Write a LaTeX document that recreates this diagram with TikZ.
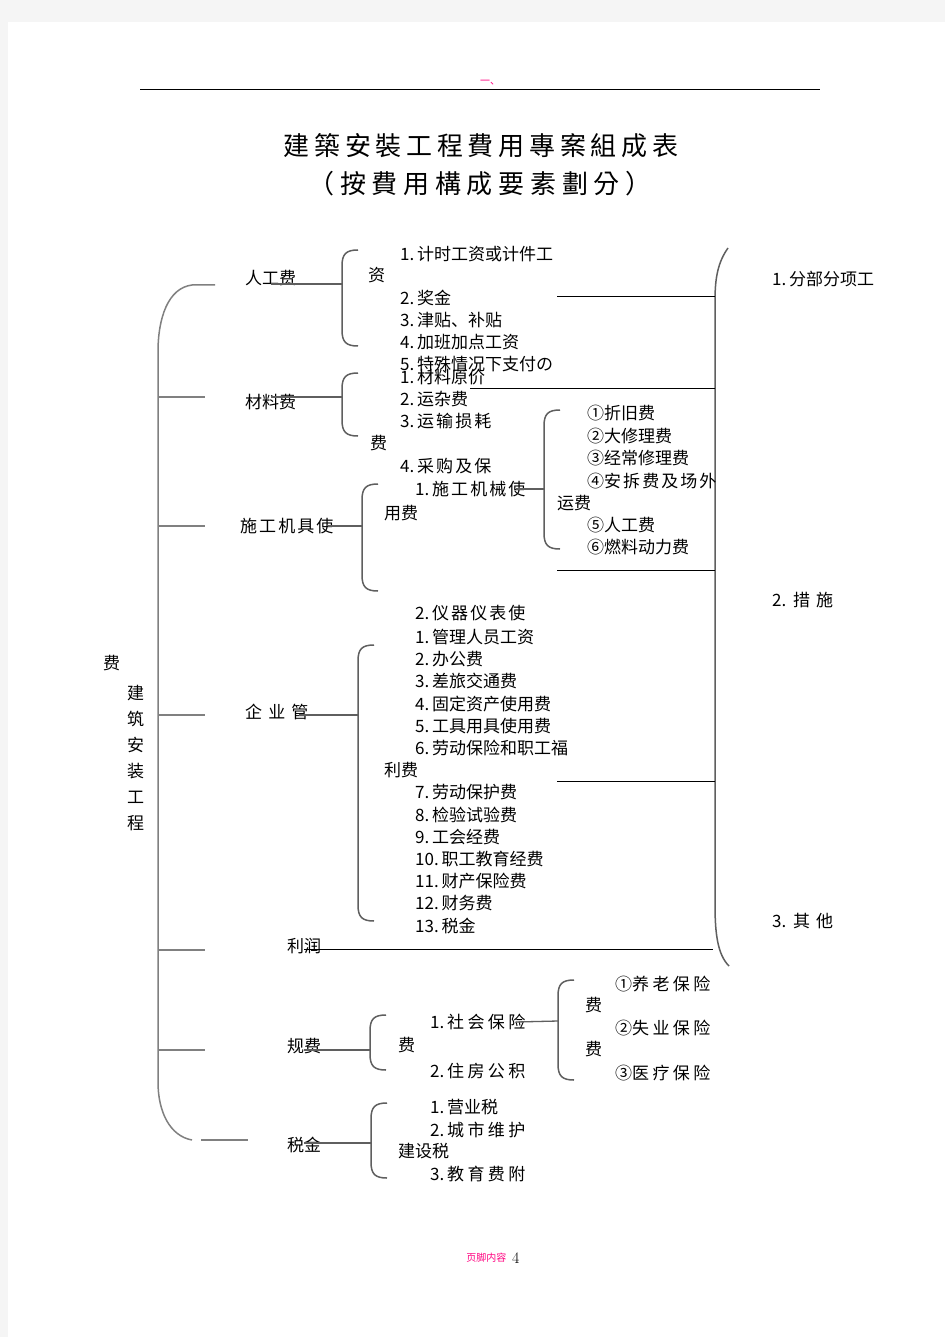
\documentclass[tikz,border=0pt]{standalone}
\usepackage{fontspec}
\newfontfamily\cjk{Noto Sans CJK SC}
\newfontfamily\wa[LetterSpace=12]{Noto Sans CJK SC}
\newfontfamily\wb[LetterSpace=20]{Noto Sans CJK SC}
\newfontfamily\wc[LetterSpace=36]{Noto Sans CJK SC}
\newfontfamily\titlefont[LetterSpace=18]{Noto Sans CJK TC}
\newfontfamily\subtitlefont[LetterSpace=22]{Noto Sans CJK TC}
\usepackage{tikz}
\definecolor{hdrpink}{RGB}{255,0,128}
\definecolor{bracegray}{RGB}{95,95,95}
\tikzset{item/.style={anchor=west,inner sep=0pt,
    font=\cjk\fontsize{17}{19}\selectfont}}
\tikzset{bracket/.style={draw=bracegray,line width=1.5pt}}
\tikzset{stub/.style={draw=bracegray,line width=1.3pt}}
\tikzset{link/.style={draw=black,line width=1pt}}
% left bracket: x, top y, bottom y
\newcommand{\bracketat}[3]{%
  \draw[bracket] ({#1+16},#2) .. controls ({#1+4},#2) and (#1,{#2+4})
    .. (#1,{#2+16}) -- (#1,{#3-16}) .. controls (#1,{#3-4}) and ({#1+4},#3)
    .. ({#1+16},#3);}

\begin{document}
\begin{tikzpicture}[x=1pt,y=-1pt]
        % Page
        \fill[gray!8] (0,0) rectangle (945,1337);
        \fill[white] (8,22) rectangle (945,1337);
        \useasboundingbox (0,0) rectangle (945,1337);
        % Header and title
        \node[font=\cjk\fontsize{10}{12}\selectfont,text=hdrpink]
        (hdr) at (490,83) {一、};
        \coordinate (hl) at (140,90);
        \coordinate (hr) at (820,90);
        \draw[line width=1pt] (hl) -- (hr);
        \node[font=\titlefont\fontsize{26}{30}\selectfont]
        (title) at (481,146) {建築安裝工程費用專案組成表};
        \node[font=\subtitlefont\fontsize{26}{30}\selectfont]
        (subtitle) at (480,184) {（按費用構成要素劃分）};
        % Root label
        \node[item] (fei) at (103,663) {费};
        \foreach \ch [count=\i] in {建,筑,安,装,工,程}
            \node[item] (root\i) at (127,667+26*\i) {\ch};
        % Big left bracket
        \draw[bracket,draw=gray] (215,285) -- (192,285)
        .. controls (168,288) and (158,318) .. (158,352)
        -- (158,1082) .. controls (158,1112) and (170,1136) .. (192,1140);
        \foreach \y in {397,526,715,950,1050}
            \draw[stub,draw=gray] (158,\y) -- (205,\y);
        \draw[stub,draw=gray] (201,1140) -- (248,1140);
        % Right bracket
        \draw[bracket] (728,248) .. controls (718,262) and (715,278)
        .. (715,300) -- (715,905) .. controls (715,935) and (718,955)
        .. (729,966);
        \node[item] (cs1) at (772,279) {1.\,分部分项工};
        \node[item] (cs2) at (772,600) {2.\ \,\wc 措施};
        \node[item] (cs3) at (772,921) {3.\ \,\wc 其他};
        % Main categories
        \node[item] (rg) at (245,278) {人工费};
        \node[item] (cl) at (245,402) {材料费};
        \node[item] (jx) at (240,526) {\wa 施工机具使};
        \node[item] (gl) at (245,712) {\wc 企业管};
        \node[item] (lr) at (287,946) {利润};
        \node[item] (gf) at (287,1046) {规费};
        \node[item] (sj) at (287,1145) {税金};
        % Labour
        \bracketat{342}{250}{346}
        \coordinate (rgB) at (342,284);
        \draw[stub] (rgB -| rg.center) -- (rgB);
        \node[item] (rg1) at (400,254) {1.\,计时工资或计件工};
        \node[item] (rg1b) at (368,275) {资};
        \node[item] (rg2) at (400,298) {2.\,奖金};
        \node[item] (rg3) at (400,320) {3.\,津贴、补贴};
        \node[item] (rg4) at (400,342) {4.\,加班加点工资};
        \node[item] (rg5) at (400,364) {5.\,特殊情况下支付の};
        % Materials
        \bracketat{342}{373}{436}
        \coordinate (clB) at (342,397);
        \draw[stub] (clB -| cl.center) -- (clB);
        \node[item] (cl1) at (400,377) {1.\,材料原价};
        \node[item] (cl2) at (400,399) {2.\,运杂费};
        \node[item] (cl3) at (400,421) {3.\,\wa 运输损耗};
        \node[item] (cl3b) at (370,443) {费};
        \node[item] (cl4) at (400,466) {4.\,\wa 采购及保};
        % Machinery
        \bracketat{362}{484}{591}
        \coordinate (jxB) at (362,526);
        \draw[stub] ([xshift=-6pt]jxB -| jx.east) -- (jxB);
        \node[item] (jx1) at (415,489) {1.\,\wa 施工机械使};
        \node[item] (jx1b) at (384,513) {用费};
        \bracketat{544}{410}{549}
        \coordinate (jx1B) at (544,489);
        \draw[stub] ([xshift=-10pt]jx1.east) -- (jx1B);
        \node[item] (jxa) at (587,413) {①折旧费};
        \node[item] (jxb) at (587,436) {②大修理费};
        \node[item] (jxc) at (587,458) {③经常修理费};
        \node[item] (jxd) at (587,481) {④\wa 安拆费及场外};
        \node[item] (jxd2) at (557,503) {运费};
        \node[item] (jxe) at (587,525) {⑤人工费};
        \node[item] (jxf) at (587,547) {⑥燃料动力费};
        \node[item] (jx2) at (415,613) {2.\,\wa 仪器仪表使};
        % Overheads
        \bracketat{358}{645}{921}
        \coordinate (glB) at (358,715);
        \draw[stub] ([xshift=-10pt]glB -| gl.east) -- (glB);
        \node[item] (gl1) at (415,637) {1.\,管理人员工资};
        \node[item] (gl2) at (415,659) {2.\,办公费};
        \node[item] (gl3) at (415,681) {3.\,差旅交通费};
        \node[item] (gl4) at (415,704) {4.\,固定资产使用费};
        \node[item] (gl5) at (415,726) {5.\,工具用具使用费};
        \node[item] (gl6) at (415,748) {6.\,劳动保险和职工福};
        \node[item] (gl6b) at (384,770) {利费};
        \node[item] (gl7) at (415,792) {7.\,劳动保护费};
        \node[item] (gl8) at (415,815) {8.\,检验试验费};
        \node[item] (gl9) at (415,837) {9.\,工会经费};
        \node[item] (gl10) at (415,859) {10.\,职工教育经费};
        \node[item] (gl11) at (415,881) {11.\,财产保险费};
        \node[item] (gl12) at (415,903) {12.\,财务费};
        \node[item] (gl13) at (415,926) {13.\,税金};
        % Lines into the right bracket
        \coordinate (k1) at (557,297);
        \coordinate (k1R) at (715,297);
        \coordinate (k2) at (470,388);
        \coordinate (k2R) at (715,388);
        \coordinate (k3) at (557,570);
        \coordinate (k3R) at (715,570);
        \coordinate (k4) at (557,781);
        \coordinate (k4R) at (715,781);
        \coordinate (lrB) at (713,949);
        \draw[link] (k1) -- (k1R);
        \draw[link] (k2) -- (k2R);
        \draw[link] (k3) -- (k3R);
        \draw[link] (k4) -- (k4R);
        \draw[link] (lrB -| lr.center) -- (lrB);
        % Fees
        \bracketat{370}{1015}{1070}
        \coordinate (gfB) at (370,1050);
        \draw[stub] (gfB -| gf.center) -- (gfB);
        \node[item] (gf1) at (430,1022) {1.\,\wb 社会保险};
        \node[item] (gf1b) at (398,1045) {费};
        \node[item] (gf2) at (430,1071) {2.\,\wb 住房公积};
        \bracketat{558}{980}{1080}
        \coordinate (gf1B) at (558,1021);
        \draw[stub] ([xshift=-10pt]gf1.east) -- (gf1B);
        \node[item] (gfx1) at (585,1005) {费};
        \node[item] (gfx2) at (585,1049) {费};
        \node[item] (gfa) at (615,984) {①\wb 养老保险};
        \node[item] (gfb) at (615,1028) {②\wb 失业保险};
        \node[item] (gfc) at (615,1073) {③\wb 医疗保险};
        % Taxes
        \bracketat{371}{1103}{1178}
        \coordinate (sjB) at (371,1143);
        \draw[stub] (sjB -| sj.center) -- (sjB);
        \node[item] (sj1) at (430,1107) {1.\,营业税};
        \node[item] (sj2) at (430,1130) {2.\,\wb 城市维护};
        \node[item] (sj2b) at (398,1151) {建设税};
        \node[item] (sj3) at (430,1174) {3.\,\wb 教育费附};
        % Footer
        \node[font=\cjk\fontsize{10}{12}\selectfont,text=hdrpink,
        anchor=east] (ftr) at (510,1258) {页脚内容};
        \node[font=\fontsize{16}{18}\selectfont,anchor=west,inner sep=2pt]
        (pg) at (ftr.east) {4};
    \end{tikzpicture}
\end{document}
